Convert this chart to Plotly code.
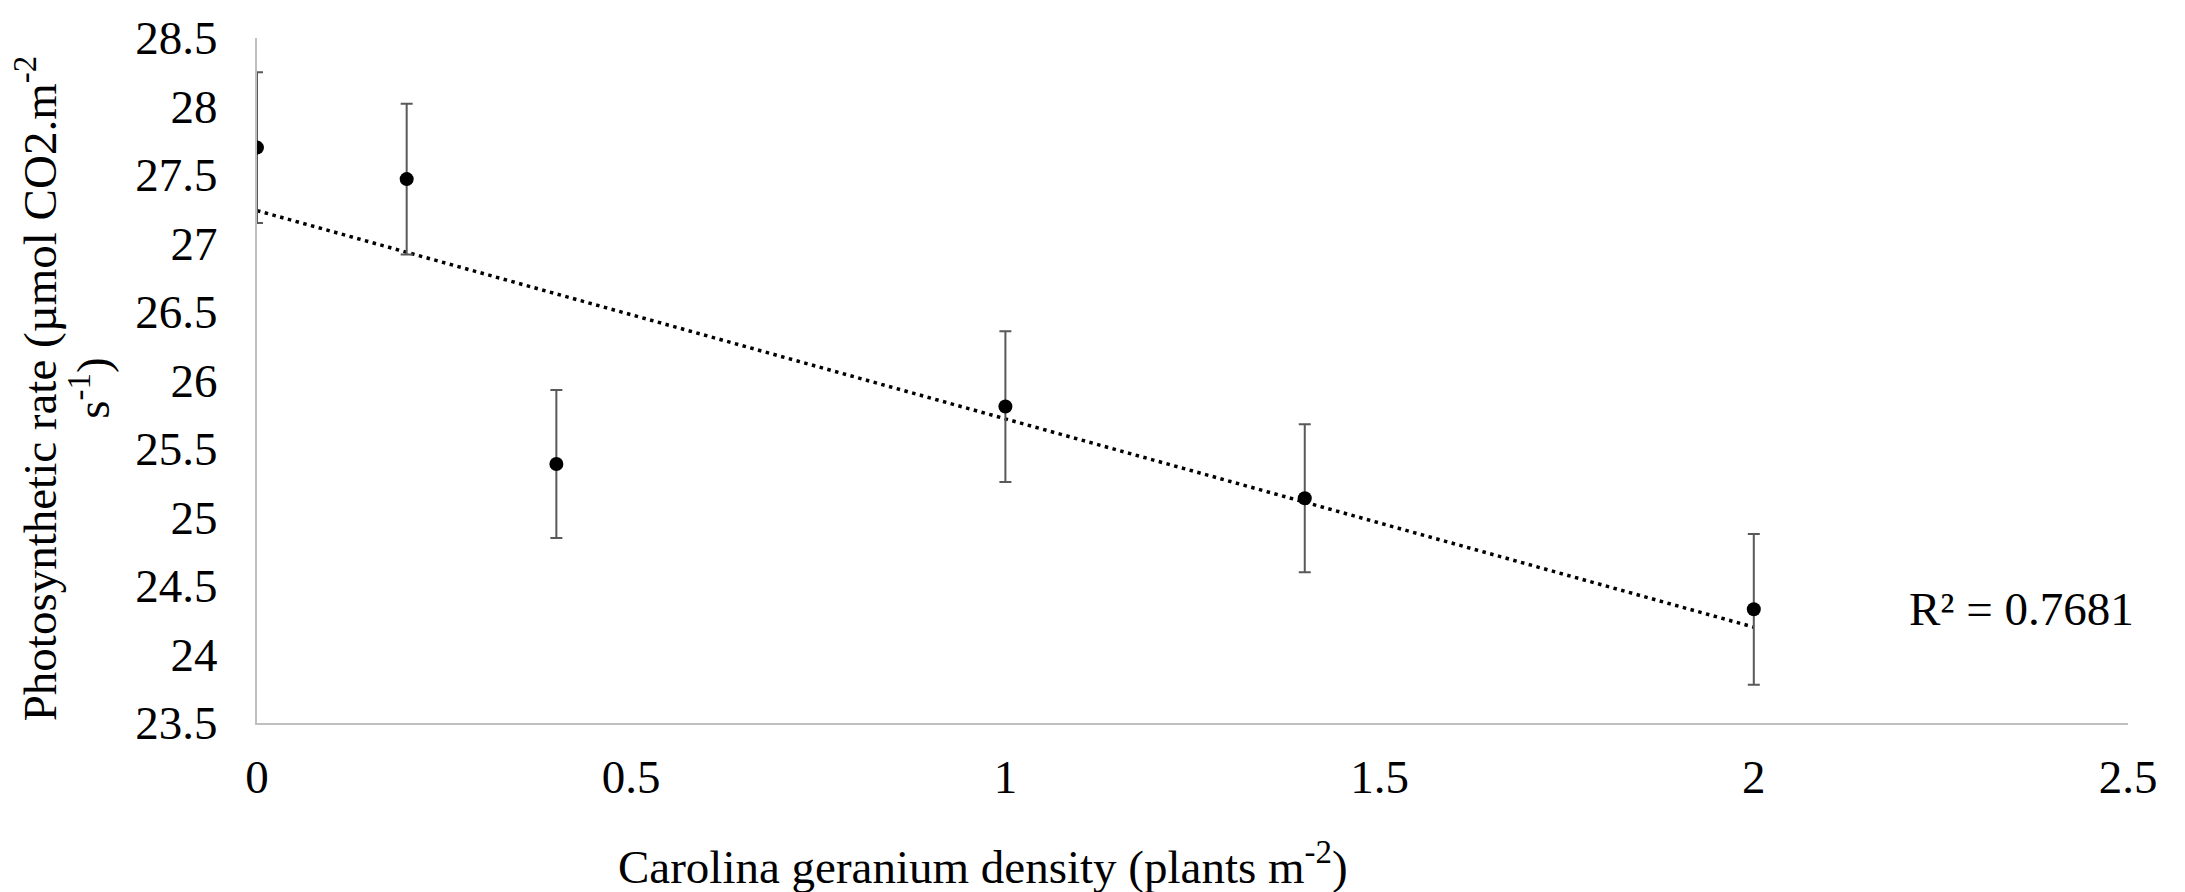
import numpy as np
import plotly.graph_objects as go

# Data
density = [0, 0.2, 0.4, 1.0, 1.4, 2.0]
photo_rate = [27.70, 27.47, 25.39, 25.81, 25.14, 24.33]
std_err = [0.55, 0.55, 0.54, 0.55, 0.54, 0.55]
x_ticks = [0, 0.5, 1, 1.5, 2, 2.5]
x_tick_labels = ["0", "0.5", "1", "1.5", "2", "2.5"]
y_ticks = [23.5, 24, 24.5, 25, 25.5, 26, 26.5, 27, 27.5, 28, 28.5]
y_tick_labels = ["23.5", "24", "24.5", "25", "25.5", "26", "26.5", "27", "27.5", "28", "28.5"]
r2_label = "R² = 0.7681"
y_title_lines = ["Photosynthetic rate (µmol CO2.m<sup>-2</sup>", "s<sup>-1</sup>)"]
x_title = "Carolina geranium density (plants m<sup>-2</sup>)"

FONT = "Liberation Serif, Times New Roman, serif"

slope, intercept = np.polyfit(density, photo_rate, 1)
trend_x = [min(density), max(density)]
trend_y = [intercept + slope * v for v in trend_x]

fig = go.Figure()
fig.add_trace(go.Scatter(
    x=trend_x, y=trend_y, mode="lines",
    line=dict(color="black", width=3.5, dash="3.5px,4.5px"),
    hoverinfo="skip", showlegend=False,
))
fig.add_trace(go.Scatter(
    x=density, y=photo_rate, mode="markers",
    marker=dict(color="black", size=14),
    error_y=dict(type="data", array=std_err, visible=True,
                 color="#595959", thickness=2, width=6),
    showlegend=False,
))

tf = dict(family=FONT, size=47, color="black")

fig.update_layout(
    width=2185, height=892,
    margin=dict(l=257, r=57, t=28, b=169),
    paper_bgcolor="white", plot_bgcolor="white",
    font=tf,
    xaxis=dict(range=[0, 2.5], tickvals=x_ticks, ticktext=x_tick_labels,
               showgrid=False, zeroline=False, showline=True,
               linecolor="#bfbfbf", linewidth=2, ticks="",
               ticklabelstandoff=12, tickfont=tf),
    yaxis=dict(range=[23.5, 28.5], tickvals=y_ticks, ticktext=y_tick_labels,
               showgrid=False, zeroline=False, showline=True,
               linecolor="#bfbfbf", linewidth=2, ticks="",
               ticklabelstandoff=28, tickfont=tf),
    annotations=[
        dict(text=x_title, xref="paper", yref="paper", x=0.388, y=-0.2058,
             xanchor="center", yanchor="middle", showarrow=False, font=tf),
        dict(text=y_title_lines[0], xref="paper", yref="paper",
             x=-0.1178, y=0.488, xanchor="center", yanchor="middle",
             textangle=-90, showarrow=False, font=tf),
        dict(text=y_title_lines[1], xref="paper", yref="paper",
             x=-0.0894, y=0.489, xanchor="center", yanchor="middle",
             textangle=-90, showarrow=False, font=tf),
        dict(text=r2_label, xref="x", yref="y", x=2.358, y=24.33,
             xanchor="center", yanchor="middle", showarrow=False, font=tf),
    ],
)

fig.write_html("out.html")
